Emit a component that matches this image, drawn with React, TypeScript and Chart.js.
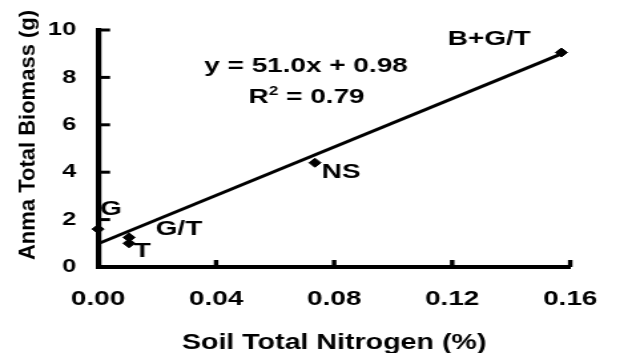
import { useEffect, useRef } from "react";
import { Chart, registerables } from "chart.js";

Chart.register(...registerables);

// ---- data ----
const soilNitrogen = [0, 0.0105, 0.0105, 0.0735, 0.157];
const biomass = [1.6, 1.25, 1.0, 4.4, 9.05];
const pointNames = ["G", "G/T", "T", "NS", "B+G/T"];
const trendNitrogen = [0, 0.157];
const trendBiomass = [0.98, 8.99];
const xTickValues = [0, 0.04, 0.08, 0.12, 0.16];
const yTickValues = [0, 2, 4, 6, 8, 10];
const equationText = "y = 51.0x + 0.98";
const r2Text = " = 0.79";
const xTitle = "Soil Total Nitrogen (%)";
const yTitle = "Anma Total Biomass (g)";

// ---- layout (logical canvas px; canvas is stretched horizontally) ----
const OUT_W = 624;
const H = 353;
const W = 469;
const STRETCH = OUT_W / W;
const FONT = '"Liberation Sans", Arial, Helvetica, sans-serif';
const labelOffsets: [number, number, CanvasTextAlign][] = [
  [1.5, -14, "left"],
  [20, -2, "left"],
  [3.6, 14, "left"],
  [5, 15, "left"],
  [-23, -7.5, "right"],
];

const overlay = {
  id: "overlay",
  afterDraw(chart: any) {
    const ctx: CanvasRenderingContext2D = chart.ctx;
    const xs = chart.scales.x;
    const ys = chart.scales.y;
    const area = chart.chartArea;
    ctx.save();
    ctx.strokeStyle = "#000";
    ctx.fillStyle = "#000";
    // inward tick marks
    ctx.lineWidth = 3;
    yTickValues.forEach((v) => {
      const py = ys.getPixelForValue(v);
      ctx.beginPath();
      ctx.moveTo(area.left, py);
      ctx.lineTo(area.left + 9, py);
      ctx.stroke();
    });
    ctx.lineWidth = 3.4;
    xTickValues.forEach((v) => {
      const px = xs.getPixelForValue(v);
      ctx.beginPath();
      ctx.moveTo(px, area.bottom);
      ctx.lineTo(px, area.bottom - 7);
      ctx.stroke();
    });

    // point labels
    ctx.font = `bold 21px ${FONT}`;
    ctx.textBaseline = "alphabetic";
    pointNames.forEach((name, i) => {
      const px = xs.getPixelForValue(soilNitrogen[i]);
      const py = ys.getPixelForValue(biomass[i]);
      const [dx, dy, al] = labelOffsets[i];
      ctx.textAlign = al;
      ctx.fillText(name, px + dx, py + dy);
    });

    // equation
    ctx.textAlign = "center";
    ctx.fillText(equationText, 230, 72);

    // R squared
    ctx.textAlign = "left";
    const cx = 230.4;
    const wR = ctx.measureText("R").width;
    const wRest = ctx.measureText(r2Text).width;
    ctx.font = `bold 13px ${FONT}`;
    const w2 = ctx.measureText("2").width;
    const start = cx - (wR + w2 + wRest) / 2;
    ctx.font = `bold 21px ${FONT}`;
    ctx.fillText("R", start, 103);
    ctx.fillText(r2Text, start + wR + w2, 103);
    ctx.font = `bold 13px ${FONT}`;
    ctx.fillText("2", start + wR, 94.5);

    // x title
    ctx.font = `bold 21.5px ${FONT}`;
    ctx.textAlign = "center";
    ctx.fillText(xTitle, (area.left + area.right) / 2, 349);

    // y title (not stretched)
    ctx.save();
    ctx.scale(1 / STRETCH, 1);
    ctx.translate(28.5, 135);
    ctx.rotate(-Math.PI / 2);
    ctx.font = `bold 22px ${FONT}`;
    ctx.textAlign = "center";
    ctx.textBaseline = "middle";
    ctx.fillText(yTitle, 0, 0);
    ctx.restore();

    ctx.restore();
  },
};

export default function App() {
  const ref = useRef<HTMLCanvasElement | null>(null);
  useEffect(() => {
    const canvas = ref.current;
    if (!canvas) return;
    const chart = new Chart(canvas, {
      type: "scatter",
      data: {
        datasets: [
          {
            type: "line",
            data: trendNitrogen.map((x, i) => ({ x, y: trendBiomass[i] })),
            borderColor: "#000",
            borderWidth: 3,
            pointRadius: 0,
            fill: false,
            tension: 0,
            order: 2,
          } as any,
          {
            data: soilNitrogen.map((x, i) => ({ x, y: biomass[i] })),
            pointStyle: "rectRot",
            pointRadius: 4.5,
            backgroundColor: "#000",
            borderColor: "#000",
            borderWidth: 1,
            clip: false,
            order: 1,
          } as any,
        ],
      },
      options: {
        responsive: false,
        animation: false,
        devicePixelRatio: 1,
        events: [],
        layout: { padding: { left: 0, top: 30, right: W - 441.9, bottom: 0 } },
        plugins: { legend: { display: false }, tooltip: { enabled: false } },
        scales: {
          x: {
            type: "linear",
            min: 0,
            max: 0.16,
            afterBuildTicks: (s: any) => {
              s.ticks = xTickValues.map((v) => ({ value: v }));
            },
            afterFit: (s: any) => {
              s.height = 86;
            },
            ticks: {
              callback: (v: any) => Number(v).toFixed(2),
              font: { family: FONT, size: 21, weight: "bold" },
              color: "#000",
              padding: 20,
              maxRotation: 0,
              autoSkip: false,
            },
            grid: { display: false, drawTicks: false },
            border: { display: true, color: "#000", width: 4 },
          },
          y: {
            type: "linear",
            min: 0,
            max: 10,
            afterBuildTicks: (s: any) => {
              s.ticks = yTickValues.map((v) => ({ value: v }));
            },
            afterFit: (s: any) => {
              s.width = 73.7;
            },
            ticks: {
              callback: (v: any) => String(v),
              font: { family: FONT, size: 19, weight: "bold" },
              color: "#000",
              padding: 16.5,
              autoSkip: false,
            },
            grid: { display: false, drawTicks: false },
            border: { display: true, color: "#000", width: 4.2 },
          },
        },
      } as any,
      plugins: [overlay],
    });
    return () => chart.destroy();
  }, []);

  return (
    <div
      style={{
        position: "fixed",
        left: 0,
        top: 0,
        width: OUT_W,
        height: H,
        overflow: "hidden",
        background: "#fff",
      }}
    >
      <canvas
        ref={ref}
        width={W}
        height={H}
        style={{
          display: "block",
          width: W,
          height: H,
          transform: `scaleX(${STRETCH})`,
          transformOrigin: "0 0",
        }}
      />
    </div>
  );
}
